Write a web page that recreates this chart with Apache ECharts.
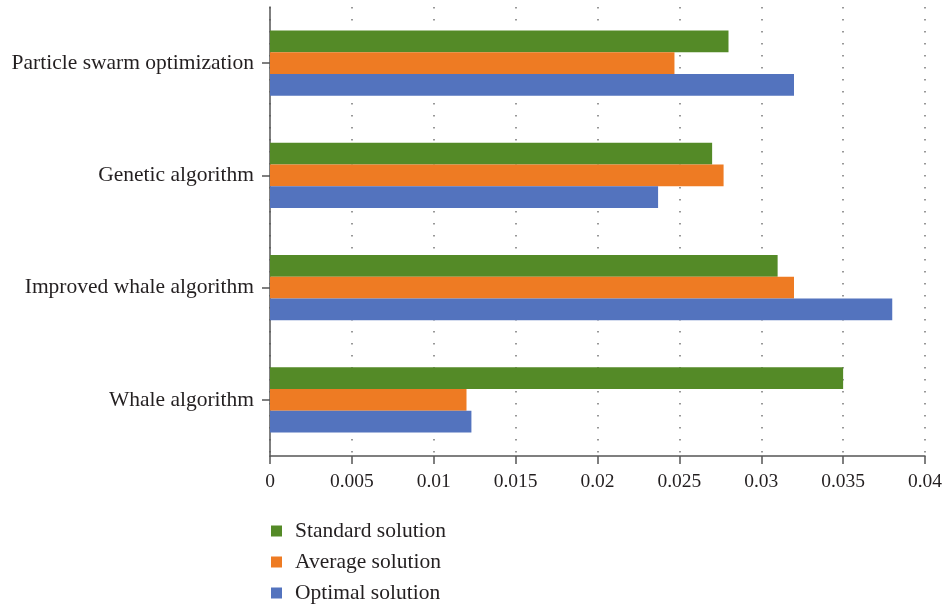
<!DOCTYPE html>
<html>
<head>
<meta charset="utf-8">
<script src="https://cdn.jsdelivr.net/npm/echarts@6/dist/echarts.min.js"></script>
<style>
  html, body { margin: 0; padding: 0; background: #fff; }
  #chart { width: 946px; height: 610px; }
</style>
</head>
<body>
<div id="chart"></div>
<script>
// Algorithms, listed bottom to top along the category axis
const categories = ['Whale algorithm', 'Improved whale algorithm', 'Genetic algorithm', 'Particle swarm optimization'];

// Solution values per algorithm (same order as categories)
const standardSolution = [0.035, 0.031, 0.027, 0.028];
const averageSolution = [0.012, 0.032, 0.0277, 0.0247];
const optimalSolution = [0.0123, 0.038, 0.0237, 0.032];

const legendNames = ['Standard solution', 'Average solution', 'Optimal solution'];
const xTicks = { min: 0, max: 0.04, interval: 0.005 };

const FONT = '"Liberation Serif", "DejaVu Serif", serif';
const TEXT = '#231f20';
const AXIS = '#555';

const chart = echarts.init(document.getElementById('chart'));

function barSeries(name, data, color) {
  return {
    name: name,
    type: 'bar',
    data: data,
    barGap: '0%',
    barCategoryGap: '42%',
    itemStyle: { color: color },
    emphasis: { disabled: true }
  };
}

chart.setOption({
  animation: false,
  grid: { left: 270, right: 21, top: 7, bottom: 154, containLabel: false },
  legend: {
    data: legendNames,
    orient: 'vertical',
    left: 266,
    top: 515,
    itemWidth: 11,
    itemHeight: 11,
    itemGap: 9,
    icon: 'rect',
    textStyle: { fontFamily: FONT, fontSize: 21.5, color: TEXT, padding: [0, 0, 0, 8] }
  },
  xAxis: {
    type: 'value',
    min: xTicks.min,
    max: xTicks.max,
    interval: xTicks.interval,
    axisLine: { show: true, lineStyle: { color: AXIS, width: 1.5 } },
    axisTick: { show: true, length: 8, lineStyle: { color: AXIS, width: 1.5 } },
    axisLabel: {
      fontFamily: FONT, fontSize: 19.5, color: TEXT, margin: 16,
      formatter: v => String(+v.toFixed(3))
    },
    splitLine: { show: true, lineStyle: { color: '#777', type: [1.5, 10.5], width: 1.5 } }
  },
  yAxis: {
    type: 'category',
    data: categories,
    axisLine: { show: true, lineStyle: { color: AXIS, width: 1.5 } },
    axisTick: { show: true, alignWithLabel: true, length: 8, lineStyle: { color: AXIS, width: 1.5 } },
    axisLabel: { fontFamily: FONT, fontSize: 21.5, color: TEXT, margin: 16 },
    splitLine: { show: false }
  },
  series: [
    barSeries('Standard solution', standardSolution, '#548A27'),
    barSeries('Average solution', averageSolution, '#EE7B23'),
    barSeries('Optimal solution', optimalSolution, '#5373BE')
  ]
});
</script>
</body>
</html>
